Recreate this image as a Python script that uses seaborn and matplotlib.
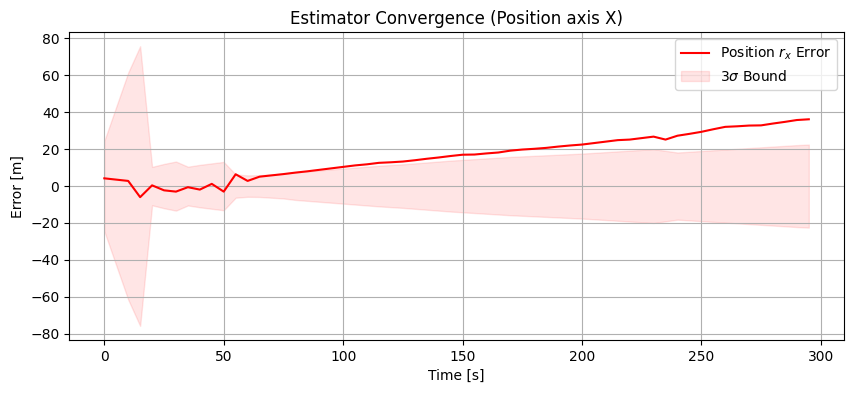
import matplotlib
matplotlib.use("Agg")
import numpy as np
import pandas as pd
import matplotlib.pyplot as plt
import seaborn as sns

# time stamps [s]
time_s = list(range(0, 300, 5))

# position error along x [m]
err_x = [4.2, 3.5, 2.8, -6.0, 0.4, -2.3, -3.0, -0.6, -1.9, 1.2,
         -3.0, 6.4, 2.8, 5.1, 5.8, 6.5, 7.3, 8.0, 8.8, 9.6,
         10.4, 11.2, 11.8, 12.6, 12.9, 13.3, 14.0, 14.8, 15.5, 16.3,
         17.0, 17.1, 17.7, 18.2, 19.2, 19.8, 20.2, 20.7, 21.4, 22.0,
         22.5, 23.3, 24.1, 24.9, 25.2, 26.0, 26.8, 25.2, 27.3, 28.3,
         29.4, 30.8, 32.1, 32.4, 32.8, 32.9, 33.9, 34.8, 35.8, 36.2]

# 3-sigma bound [m]
bound_3s = [24.5, 43.0, 61.5, 75.8, 10.4, 12.0, 13.3, 10.5, 11.5, 12.3,
            13.1, 6.3, 5.8, 5.9, 6.3, 6.7, 7.5, 8.0, 8.5, 9.0,
            9.5, 10.0, 10.5, 11.0, 11.4, 11.8, 12.3, 12.8, 13.3, 13.8,
            14.2, 14.6, 15.0, 15.4, 15.8, 16.1, 16.4, 16.7, 17.0, 17.3,
            17.6, 18.0, 18.4, 18.8, 19.2, 19.6, 20.0, 19.1, 18.2, 18.6,
            19.0, 19.4, 19.8, 20.2, 20.6, 21.0, 21.4, 21.8, 22.2, 22.5]

df = pd.DataFrame({"t": time_s, "err": err_x, "sig3": bound_3s})

fig, ax = plt.subplots(figsize=(8.53, 3.93), dpi=100)
fig.subplots_adjust(left=0.081, right=0.9895, bottom=0.135, top=0.918)

sns.lineplot(data=df, x="t", y="err", color="red", linewidth=1.5,
             label="Position $r_x$ Error", ax=ax)
ax.fill_between(df["t"], -df["sig3"], df["sig3"], color="red", alpha=0.1,
                label=r"3$\sigma$ Bound")

ax.set_title("Estimator Convergence (Position axis X)")
ax.set_xlabel("Time [s]")
ax.set_ylabel("Error [m]")
ax.grid(True)
ax.legend(loc="upper right")

fig.savefig("out.png", dpi=100)
